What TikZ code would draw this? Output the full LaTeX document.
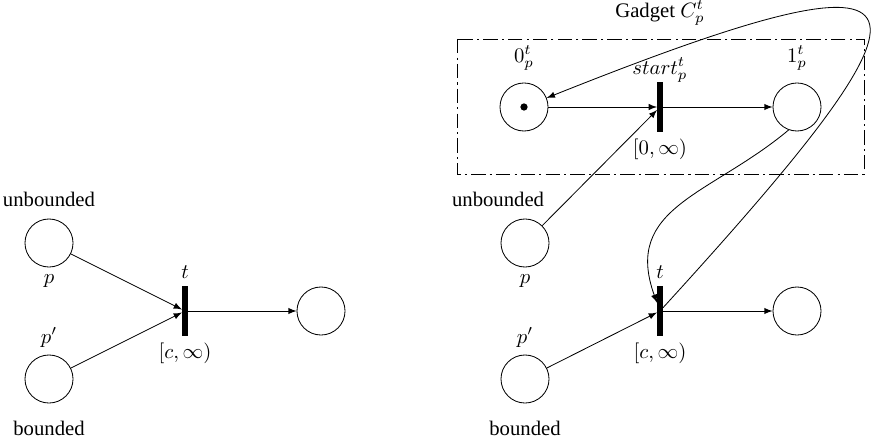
\documentclass[tikz,border=0pt]{standalone}
\usepackage[no-math]{fontspec}
\setmainfont{Liberation Serif}

\begin{document}
\begin{tikzpicture}[x=0.483pt,y=-0.483pt,>=latex,
		place/.style={draw,circle,minimum size=23.2pt,inner sep=0pt},
		trans/.style={draw,fill,rectangle,minimum width=2.5pt,minimum height=23.5pt,inner sep=0pt},
		token/.style={fill,circle,minimum size=3.5pt,inner sep=0pt},
		gadgetbox/.style={dash pattern=on 7pt off 2pt on 1pt off 2pt}]
		\useasboundingbox (0,0) rectangle (879,444);
		% left: the plain transition
		\node [place,label={[label distance=2.4pt]above:unbounded},label=below:$p$]        (p)    at (49,243)  {};
		\node [place,label=above:$p'$,label={[label distance=4.8pt]below:bounded}]          (pp)   at (49,379)  {};
		\node [trans,label=above:$t$,label=below:{$[c,\infty)$}]                            (t)    at (185,311) {};
		\node [place]                                                                       (out)  at (321,311) {};
		
		\draw [->] (p)--(t);
		\draw [->] (pp)--(t);
		\draw [->] (t)--(out);
		
		% right: the same transition with the gadget
		\node [place,label={[label distance=2.4pt,xshift=-13pt]above:unbounded},label=below:$p$] (p2)   at (525,243) {};
		\node [place,label=above:$p'$,label={[label distance=4.8pt]below:bounded}]          (pp2)  at (525,379) {};
		\node [trans,label=above:$t$,label=below:{$[c,\infty)$}]                            (t2)   at (660,311) {};
		\node [place]                                                                       (out2) at (797,311) {};
		
		\node [place,label={[label distance=2.5pt]above:$0_p^t$}]                           (zero) at (524,107) {};
		\node [token]                                                                       (tok)  at (zero)    {};
		\node [trans,label={[label distance=-3.5pt]above:$start_p^t$},label=below:{$[0,\infty)$}] (start) at (660,107) {};
		\node [place,label={[label distance=2.5pt]above:$1_p^t$}]                           (one)  at (797,107) {};
		\node                                                                               (gadget) at (660,13) {Gadget $C_p^t$};
		\draw [gadgetbox] (457,39) rectangle (864,174);
		
		\draw [->] (zero)--(start);
		\draw [->] (start)--(one);
		\draw [->] (p2)--(start);
		\draw [->] (pp2)--(t2);
		\draw [->] (t2)--(out2);
		\draw [->] (one.-110) to[out=-140,in=110,looseness=1.2] (t2);
		\draw [->] (t2) .. controls (954,-11) and (957,-66) .. (zero);
	\end{tikzpicture}
\end{document}
